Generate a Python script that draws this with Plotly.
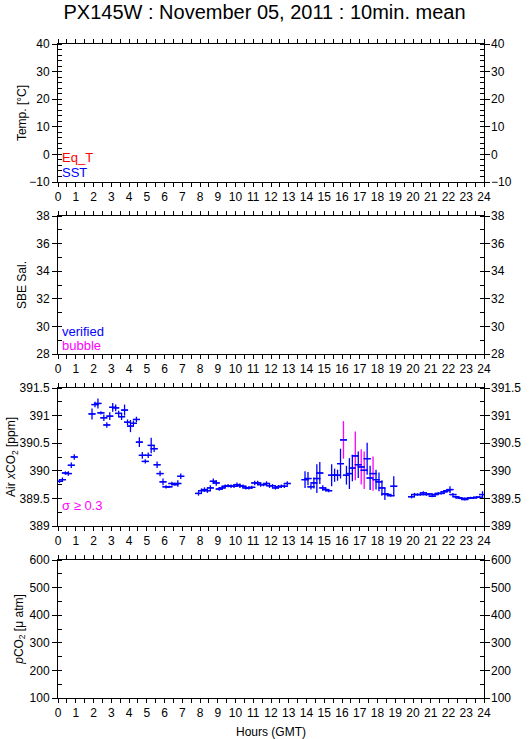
import plotly.graph_objects as go

# ---------------- data (10-min means, hours GMT) ----------------
seg_k = [list(range(0, 6)), list(range(11, 42)), list(range(47, 78)),
         list(range(83, 114)), list(range(119, 144))]
hours = [(k + 0.5) / 6.0 for seg in seg_k for k in seg]

air_xco2 = [
    # 00:00 - 01:00
    389.81, 389.84, 389.96, 389.95, 390.10, 390.25,
    # 01:50 - 07:00
    391.03, 391.20, 391.22, 391.05, 390.96, 390.83, 390.99, 391.15, 391.14, 391.04,
    390.98, 391.10, 390.88, 390.81, 390.86, 390.93, 390.52, 390.28, 390.17, 390.28,
    390.46, 390.40, 390.11, 389.95, 389.80, 389.71, 389.71, 389.77, 389.75, 389.77,
    389.90,
    # 07:50 - 13:00
    389.59, 389.64, 389.66, 389.64, 389.69, 389.81, 389.78, 389.67, 389.69, 389.72,
    389.73, 389.72, 389.72, 389.75, 389.73, 389.72, 389.69, 389.69, 389.70, 389.78,
    389.78, 389.75, 389.75, 389.77, 389.73, 389.73, 389.69, 389.71, 389.72, 389.72,
    389.77,
    # 13:50 - 19:00
    389.84, 389.86, 389.71, 389.78, 389.86, 389.96, 389.69, 389.66, 389.64, 389.92,
    389.92, 389.92, 390.13, 390.56, 389.92, 389.95, 390.05, 390.27, 390.11, 390.07,
    390.01, 390.22, 389.87, 389.95, 389.84, 389.80, 389.69, 389.58, 389.57, 389.55,
    389.72,
    # 19:50 - 24:00
    389.53, 389.57, 389.57, 389.57, 389.60, 389.57, 389.58, 389.54, 389.57, 389.59,
    389.59, 389.62, 389.64, 389.66, 389.57, 389.53, 389.51, 389.50, 389.48, 389.50,
    389.51, 389.51, 389.52, 389.52, 389.57,
]

air_sigma = [
    0.03, 0.04, 0.03, 0.04, 0.05, 0.05,
    0.10, 0.05, 0.09, 0.03, 0.06, 0.05, 0.07, 0.08, 0.06, 0.05,
    0.06, 0.10, 0.05, 0.11, 0.05, 0.05, 0.09, 0.06, 0.04, 0.05,
    0.14, 0.06, 0.06, 0.05, 0.06, 0.03, 0.02, 0.03, 0.02, 0.06,
    0.05,
    0.04, 0.04, 0.04, 0.04, 0.05, 0.05, 0.05, 0.03, 0.03, 0.03,
    0.03, 0.03, 0.03, 0.04, 0.04, 0.03, 0.03, 0.03, 0.03, 0.04,
    0.04, 0.04, 0.03, 0.04, 0.04, 0.03, 0.03, 0.03, 0.03, 0.03,
    0.04,
    0.15, 0.12, 0.05, 0.10, 0.26, 0.20, 0.05, 0.03, 0.03, 0.20,
    0.12, 0.10, 0.27, 0.34, 0.17, 0.28, 0.24, 0.44, 0.24, 0.32,
    0.34, 0.29, 0.22, 0.31, 0.18, 0.17, 0.14, 0.11, 0.03, 0.02,
    0.18,
    0.03, 0.03, 0.02, 0.02, 0.03, 0.02, 0.02, 0.02, 0.02, 0.02,
    0.02, 0.03, 0.03, 0.06, 0.03, 0.02, 0.02, 0.02, 0.02, 0.02,
    0.02, 0.02, 0.02, 0.02, 0.06,
]

sigma_limit = 0.3
hour_ticks = list(range(0, 25))

panels = [
    dict(name="Temp. [°C]", rng=[-10, 40], dtick=10, minor=2, standoff=0),
    dict(name="SBE Sal.", rng=[28, 38], dtick=2, minor=1, standoff=7),
    dict(name="Air <i>x</i>CO<sub>2</sub> [ppm]", rng=[389, 391.5], dtick=0.5, minor=0.25, standoff=0),
    dict(name="<i>p</i>CO<sub>2</sub> [μ atm]", rng=[100, 600], dtick=100, minor=50, standoff=3),
]

# ---------------- figure ----------------
W, H = 529, 739
mt, mb, ml, mr = 44, 41, 58, 45
ph = H - mt - mb
panel_px = [(44, 182), (216, 354), (388, 526), (560, 698)]

BLUE = "rgb(0,0,255)"
MAG = "rgb(255,0,255)"
FONT = "Liberation Sans, Arial, sans-serif"


def ax(letter, i):
    return letter if i == 1 else f"{letter}{i}"


fig = go.Figure()

ok_x = [h for h, s in zip(hours, air_sigma) if s < sigma_limit]
ok_y = [v for v, s in zip(air_xco2, air_sigma) if s < sigma_limit]
ok_e = [s for s in air_sigma if s < sigma_limit]
bad_x = [h for h, s in zip(hours, air_sigma) if s >= sigma_limit]
bad_y = [v for v, s in zip(air_xco2, air_sigma) if s >= sigma_limit]
bad_e = [s for s in air_sigma if s >= sigma_limit]

for xs, ys, es, col in [(ok_x, ok_y, ok_e, BLUE), (bad_x, bad_y, bad_e, MAG)]:
    fig.add_trace(go.Scatter(
        x=xs, y=ys, mode="markers", xaxis="x3", yaxis="y3",
        marker=dict(symbol="line-ew", size=5, line=dict(color=BLUE, width=1.3)),
        error_y=dict(type="data", array=es, visible=True, color=col, thickness=1.3, width=0),
        showlegend=False, hoverinfo="skip"))
# the horizontal bars drawn over the sigma bars
fig.add_trace(go.Scatter(
    x=hours, y=air_xco2, mode="markers", xaxis="x3", yaxis="y3",
    marker=dict(symbol="line-ew", size=5, line=dict(color=BLUE, width=1.3)),
    showlegend=False, hoverinfo="skip"))

# empty traces to create subplots
for i in range(1, 5):
    for ya in (ax("y", i), f"y{i+4}"):
        fig.add_trace(go.Scatter(x=[None], y=[None], xaxis=ax("x", i), yaxis=ya,
                                 showlegend=False, hoverinfo="skip"))

layout = dict(
    width=W, height=H, margin=dict(l=ml, r=mr, t=mt, b=mb, autoexpand=False),
    paper_bgcolor="white", plot_bgcolor="white",
    font=dict(family=FONT, size=12, color="black"),
    title=dict(text="PX145W : November 05, 2011 : 10min. mean", x=0.5, xanchor="center",
               y=1 - 12 / H, yanchor="middle", yref="container",
               font=dict(family=FONT, size=20, color="black")),
    showlegend=False,
)

for i, (p, (top, bot)) in enumerate(zip(panels, panel_px), start=1):
    dom = [(H - mb - bot) / ph, (H - mb - top) / ph]
    xa = dict(
        domain=[0, 1], anchor=ax("y", i), range=[0, 24], tickmode="array", tickvals=hour_ticks,
        ticks="outside", ticklen=4, tickwidth=1, tickcolor="black",
        showline=True, linecolor="black", linewidth=1, mirror="ticks",
        showgrid=False, zeroline=False, tickfont=dict(size=12), automargin=False,
        minor=dict(dtick=0.5, tick0=0, ticks="outside", ticklen=4, tickwidth=1,
                   tickcolor="black", showgrid=False),
    )
    if i == 4:
        xa["title"] = dict(text="Hours (GMT)", font=dict(size=12))
    layout[ax("xaxis", i)] = xa
    layout[ax("yaxis", i)] = dict(
        domain=dom, anchor=ax("x", i), range=p["rng"], dtick=p["dtick"], tick0=p["rng"][0],
        ticks="outside", ticklen=5, tickwidth=1, tickcolor="black",
        showline=True, linecolor="black", linewidth=1, mirror="ticks",
        showgrid=False, zeroline=False, tickfont=dict(size=12),
        minor=dict(dtick=p["minor"], tick0=p["rng"][0], ticks="inside", ticklen=4,
                   tickwidth=1, tickcolor="black", showgrid=False),
        title=dict(text=p["name"], font=dict(size=12), standoff=p["standoff"]),
        automargin=True,
    )
    layout[f"yaxis{i+4}"] = dict(
        overlaying=ax("y", i), anchor=ax("x", i), side="right", range=p["rng"], dtick=p["dtick"],
        tick0=p["rng"][0], ticks="", showline=False, showgrid=False, zeroline=False,
        tickfont=dict(size=12), ticklabelstandoff=6, automargin=False,
    )

fig.update_layout(**layout)

# in-panel legend texts
notes = [
    (1, 0.174, "Eq_T", "rgb(255,0,0)"),
    (1, 0.072, "SST", BLUE),
    (2, 0.162, "verified", BLUE),
    (2, 0.062, "bubble", MAG),
    (3, 0.152, "σ ≥ 0.3", MAG),
]
for i, yy, txt, col in notes:
    fig.add_annotation(xref=ax("x", i) + " domain", yref=ax("y", i) + " domain",
                       x=0.004, y=yy, xanchor="left", yanchor="middle",
                       text=txt, showarrow=False, font=dict(family=FONT, size=13, color=col))

fig.write_html("out.html", config={"displayModeBar": False},
               post_script="document.body.style.margin='0';")
